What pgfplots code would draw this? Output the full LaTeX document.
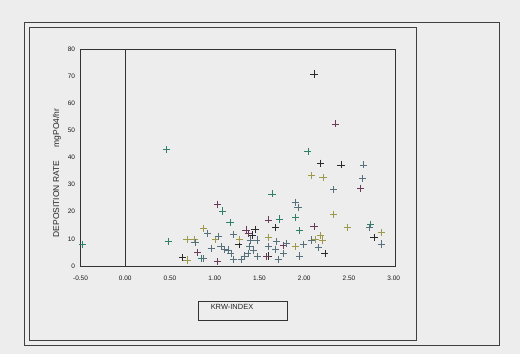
\documentclass[border=0pt]{standalone}
\usepackage{pgfplots}
\pgfplotsset{compat=1.18}
\usepackage{fontspec}
\setmainfont{Liberation Sans}
\definecolor{bg}{HTML}{EDEDED}
\definecolor{cdark}{HTML}{2A2A2A}
\definecolor{cteal}{HTML}{2F7F6A}
\definecolor{colive}{HTML}{9C9A4A}
\definecolor{cpurple}{HTML}{6A3A5A}
\definecolor{cgrey}{HTML}{56707C}
\begin{document}
\begin{tikzpicture}[x=1bp,y=1bp]
% page background and the two frames
\fill[bg] (0,0) rectangle (520,354);
\draw[black!75,line width=0.6pt] (24,9) rectangle (499,332);
\draw[black!75,line width=0.6pt] (29,14) rectangle (416,327);
\begin{axis}[
  at={(80.5bp,88bp)}, anchor=south west,
  scale only axis, width=315bp, height=217bp,
  xmin=-0.5, xmax=3.02, ymin=0, ymax=80,
  axis line style={black!80,line width=0.6pt},
  major tick length=0pt,
  xtick={-0.5,0,0.5,1,1.5,2,2.5,3},
  xticklabels={-0.50,0.00,0.50,1.00,1.50,2.00,2.50,3.00},
  ytick={0,10,...,80},
  /pgf/number format/assume math mode=true,
  tick label style={font=\fontsize{6.5}{7.5}\selectfont, black!90},
  xticklabel style={yshift=-6bp},
  yticklabel style={xshift=-2bp},
  every axis plot/.append style={only marks, mark=+, mark size=3.6pt, line width=0.6pt},
]
\draw[black!80,line width=0.6pt] (axis cs:0,0) -- (axis cs:0,80);
% dark crosses
\addplot[cdark] coordinates {
 (-0.51,3.1) (0.64,3.1) (1.27,8.0) (1.60,3.7) (2.11,70.8) (2.18,37.9)
 (2.23,4.7) (2.41,37.3) (2.78,10.6) (1.42,11.4) (1.45,13.5) (1.68,14.1)
};
% teal crosses
\addplot[cteal] coordinates {
 (-0.48,8.0) (0.46,43.0) (0.48,9.0) (0.85,2.8) (1.09,20.3) (1.17,16.0)
 (1.64,26.6) (1.72,17.3) (1.90,18.0) (1.95,13.0) (2.04,42.2) (2.74,15.4)
};
% olive crosses
\addplot[colive] coordinates {
 (0.69,2.2) (0.69,9.8) (0.77,9.8) (0.87,13.9) (1.01,9.8) (1.28,9.8)
 (1.60,10.6) (1.90,7.1) (2.08,33.3) (2.21,32.6) (2.12,9.8) (2.18,11.2)
 (2.33,19.1) (2.48,14.1) (2.86,12.4) (2.20,9.6)
};
% purple crosses
\addplot[cpurple] coordinates {
 (0.81,5.0) (1.03,22.8) (1.03,1.6) (1.35,13.3) (1.38,12.0) (1.60,17.0)
 (1.58,3.4) (2.11,14.5) (2.35,52.4) (2.63,28.7) (1.77,7.7)
};
% grey-blue crosses
\addplot[cgrey] coordinates {
 (0.96,6.6) (1.30,2.5) (1.90,23.5) (1.93,21.6) (1.95,3.7) (2.66,37.3)
 (2.65,32.3) (2.08,9.6) (2.86,8.1) (2.73,14.1) (1.77,4.7) (1.99,8.0)
 (0.78,8.6) (0.87,2.8) (0.92,12.0) (1.04,10.8) (1.07,7.1) (1.11,6.2)
 (1.15,5.9) (1.18,4.7) (1.21,11.7) (1.21,2.5) (1.33,3.7) (1.37,4.7)
 (1.39,7.1) (1.40,9.6) (1.43,5.9) (1.47,9.6) (1.48,3.4) (1.60,7.1)
 (1.69,9.0) (1.68,6.2) (1.71,2.5) (1.80,8.4) (2.16,6.8) (2.33,28.2)
};
\end{axis}
% axis titles
\node[rotate=90, font=\fontsize{8.5}{10}\selectfont, black!85] at (57,181)
  {DEPOSITION RATE\hspace{1.6em}mgPO4/hr};
\draw[black!80,line width=0.6pt] (198,34) rectangle (287,53);
\node[font=\fontsize{7.5}{9}\selectfont, black!85] at (232,47) {KRW-INDEX};
\end{tikzpicture}
\end{document}
